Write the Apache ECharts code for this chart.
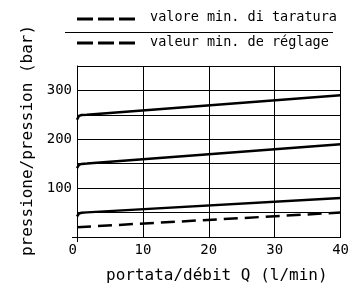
<!DOCTYPE html>
<html>
<head>
<meta charset="utf-8">
<script src="https://cdn.jsdelivr.net/npm/echarts@6/dist/echarts.min.js"></script>
<style>html,body{margin:0;padding:0;background:#fff}#c{width:352px;height:289px}</style>
</head>
<body>
<div id="c"></div>
<script>
var xTicks = [0, 10, 20, 30, 40];
var yTicks = [100, 200, 300];
var curveLow = [[0, 42], [0.1, 45], [0.3, 48], [0.7, 49.6], [1.5, 50.4], [40, 80]];
var curveMid = [[0, 141], [0.1, 144.5], [0.3, 147.8], [0.7, 149.6], [1.5, 150.4], [40, 190]];
var curveHigh = [[0, 240], [0.1, 244], [0.3, 247.8], [0.7, 249.6], [1.5, 250.4], [40, 290]];
var minSetting = [[0, 20], [40, 50]];
var legendLabels = ['valore min. di taratura', 'valeur min. de réglage'];
var xName = 'portata/débit Q (l/min)';
var yName = 'pressione/pression (bar)';

var font = 'DejaVu Sans Mono';
var chart = echarts.init(document.getElementById('c'), null, {renderer: 'canvas'});
function solid(d) {
  return {type: 'line', data: d, showSymbol: false, symbol: 'none', lineStyle: {color: '#000', width: 2.5}, z: 5};
}
chart.setOption({
  animation: false,
  backgroundColor: '#fff',
  grid: {left: 77, right: 11, top: 66, bottom: 52},
  xAxis: [{
    type: 'value', min: 0, max: 40, interval: 10,
    name: xName, nameLocation: 'middle', nameGap: 31,
    nameTextStyle: {fontFamily: font, fontSize: 16, color: '#000', padding: [0, 0, 0, 16]},
    axisLine: {show: true, lineStyle: {color: '#000', width: 1}},
    axisTick: {show: false},
    splitLine: {show: true, lineStyle: {color: '#000', width: 1}},
    axisLabel: {
      fontFamily: font, fontSize: 14, color: '#000', margin: 6,
      customValues: xTicks, alignMinLabel: 'right'
    }
  }, {
    type: 'value', min: 0, max: 40, position: 'bottom',
    axisLine: {show: false}, splitLine: {show: false}, axisLabel: {show: false},
    axisTick: {show: true, customValues: [0], length: 5, lineStyle: {color: '#000'}}
  }],
  yAxis: [{
    type: 'value', min: 0, max: 350, interval: 50,
    name: yName, nameLocation: 'middle', nameGap: 39, nameRotate: 90,
    nameTextStyle: {fontFamily: font, fontSize: 16, color: '#000', padding: [0, 0, 0, 22]},
    axisLine: {show: true, lineStyle: {color: '#000', width: 1}},
    axisTick: {show: false},
    splitLine: {show: true, lineStyle: {color: '#000', width: 1}},
    axisLabel: {
      fontFamily: font, fontSize: 14, color: '#000', margin: 5,
      customValues: yTicks
    }
  }, {
    type: 'value', min: 0, max: 350, position: 'left',
    axisLine: {show: false}, splitLine: {show: false}, axisLabel: {show: false},
    axisTick: {show: true, customValues: [0], length: 5, lineStyle: {color: '#000'}}
  }],
  graphic: [
    {type: 'line', shape: {x1: 77, y1: 19, x2: 135, y2: 19}, style: {stroke: '#000', lineWidth: 3, lineDash: [16, 5]}},
    {type: 'text', left: 150, top: 10, style: {text: legendLabels[0], font: '13.5px "DejaVu Sans Mono"', fill: '#000'}},
    {type: 'line', shape: {x1: 65, y1: 32.5, x2: 333, y2: 32.5}, style: {stroke: '#000', lineWidth: 1}},
    {type: 'line', shape: {x1: 77, y1: 43, x2: 135, y2: 43}, style: {stroke: '#000', lineWidth: 3, lineDash: [16, 5]}},
    {type: 'text', left: 150, top: 35, style: {text: legendLabels[1], font: '13.5px "DejaVu Sans Mono"', fill: '#000'}}
  ],
  series: [
    solid(curveLow), solid(curveMid), solid(curveHigh),
    {type: 'line', data: minSetting, showSymbol: false, symbol: 'none', z: 5,
     lineStyle: {color: '#000', width: 2.5, type: [14, 7]}}
  ]
});
</script>
</body>
</html>
